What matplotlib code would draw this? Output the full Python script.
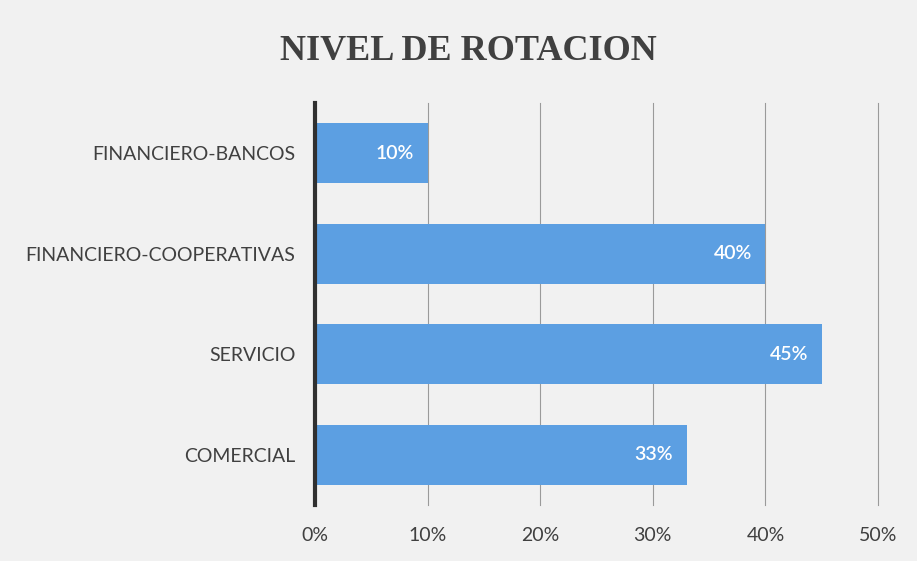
import matplotlib
matplotlib.use("Agg")
import matplotlib.pyplot as plt
from matplotlib.ticker import PercentFormatter

categories = ["COMERCIAL", "SERVICIO", "FINANCIERO-COOPERATIVAS", "FINANCIERO-BANCOS"]
values = [33, 45, 40, 10]
xticks = [0, 10, 20, 30, 40, 50]

fig = plt.figure(figsize=(9.17, 5.61), dpi=100)
fig.patch.set_facecolor("#f1f1f1")
ax = fig.add_axes([0.3435, 0.0998, 0.614, 0.7166])
ax.set_facecolor("#f1f1f1")

bars = ax.barh(range(len(categories)), values, height=0.6, color="#5c9fe2", zorder=3)
ax.set_ylim(-0.5, len(categories) - 0.5)
ax.set_xlim(0, 50)
ax.set_xticks(xticks)
ax.xaxis.set_major_formatter(PercentFormatter(decimals=0))
ax.set_yticks(range(len(categories)))
ax.set_yticklabels(categories)
ax.grid(axis="x", color="#9a9a9a", linewidth=0.8, zorder=0)
for gl in ax.get_xgridlines():
    gl.set_clip_on(False)
ax.tick_params(axis="both", length=0, labelsize=14, colors="#404040")
ax.tick_params(axis="x", pad=16)
ax.tick_params(axis="y", pad=14)
for s in ["top", "right", "bottom"]:
    ax.spines[s].set_visible(False)
ax.spines["left"].set_color("#303030")
ax.spines["left"].set_linewidth(3)
ax.spines["left"].set_zorder(4)
for lab in ax.get_xticklabels() + ax.get_yticklabels():
    lab.set_fontfamily("Lato")

for b, v in zip(bars, values):
    ax.text(b.get_width() - 1.2, b.get_y() + b.get_height() / 2, f"{v}%",
            ha="right", va="center", color="white", fontsize=14,
            fontweight="semibold", family="Lato", zorder=5)

fig.text(0.511, 0.908, "NIVEL DE ROTACION", ha="center", va="center",
         fontsize=26, fontweight="bold", family="Liberation Serif", color="#404040")

fig.savefig("out.png", dpi=100, facecolor=fig.get_facecolor())
